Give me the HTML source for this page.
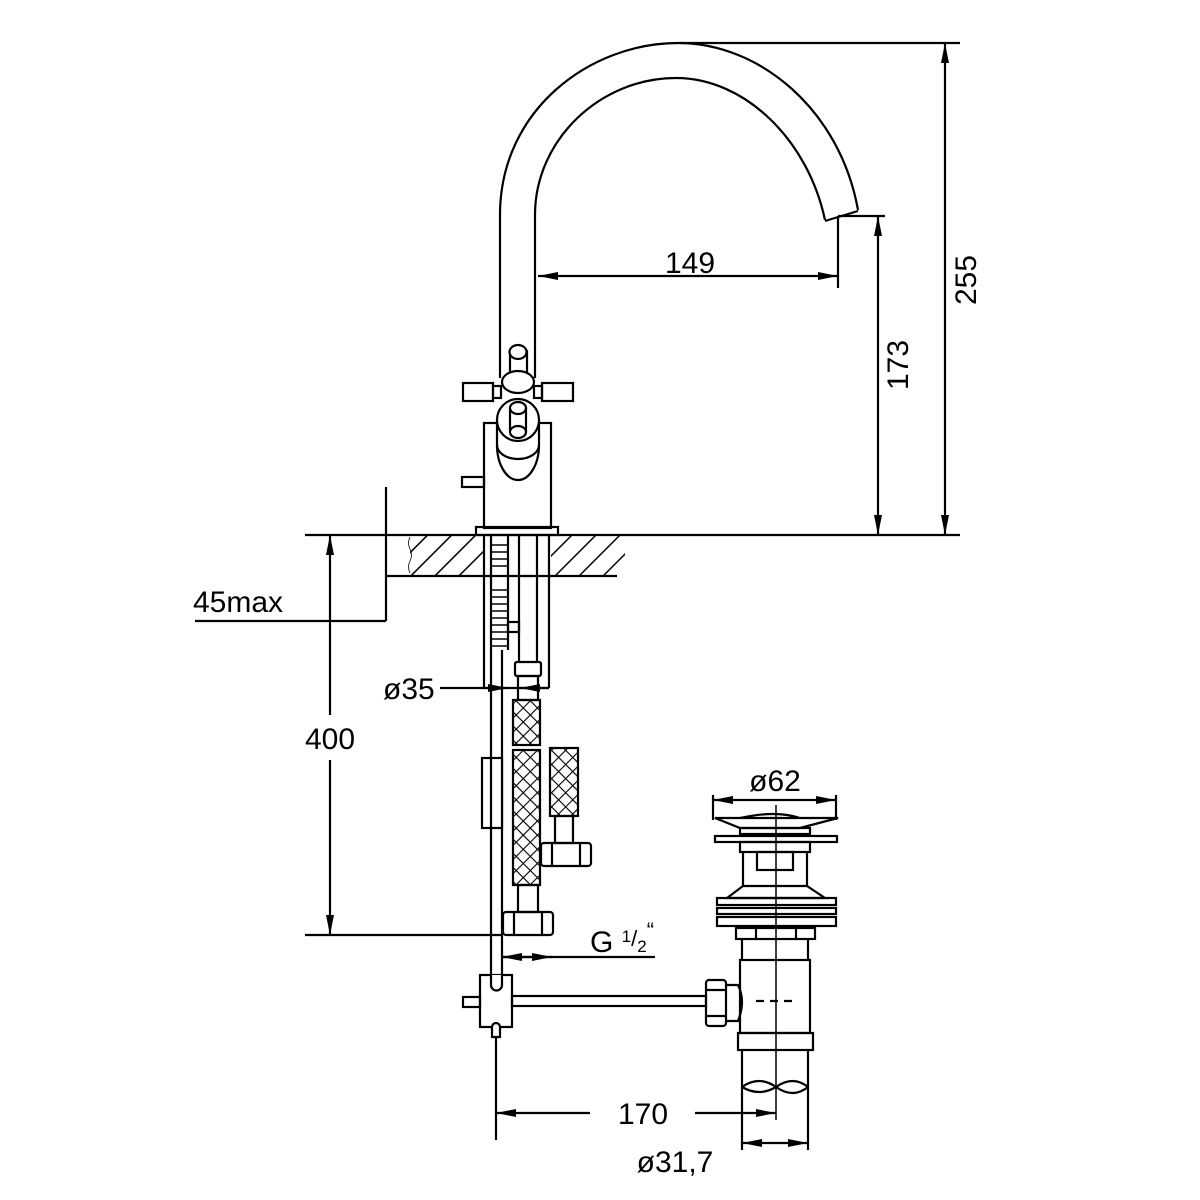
<!DOCTYPE html>
<html><head><meta charset="utf-8"><style>
html,body{margin:0;padding:0;background:#fff;}
svg{display:block;}
text{font-family:"Liberation Sans",sans-serif;font-size:30px;fill:#000;}
</style></head><body>
<svg width="1200" height="1200" viewBox="0 0 1200 1200" xmlns="http://www.w3.org/2000/svg">
<defs>
<marker id="a" viewBox="0 0 20 8" refX="20" refY="4" markerWidth="20" markerHeight="8" markerUnits="userSpaceOnUse" orient="auto-start-reverse"><path d="M0,0L20,4L0,8z" fill="#000"/></marker>
<pattern id="h" width="17" height="17" patternUnits="userSpaceOnUse" patternTransform="rotate(45)"><line x1="0" y1="0" x2="0" y2="17" stroke="#000" stroke-width="3"/></pattern>
<pattern id="x" width="10" height="10" patternUnits="userSpaceOnUse" patternTransform="rotate(45)"><path d="M0,0H10M0,0V10" stroke="#000" stroke-width="2.2" fill="none"/></pattern>
</defs>
<g fill="none" stroke="#000" stroke-width="2.2">
<!-- spout -->
<path d="M500,378 V215 C500,110 590,43 678,43 C760,43 840,110 858,210"/>
<path d="M535,378 V215 C535,140 600,78 676,78 C745,78 808,140 825,220"/>
<path d="M825,221 L858,211"/>
<!-- dims top -->
<line x1="680" y1="43" x2="960" y2="43"/>
<line x1="945" y1="43" x2="945" y2="535" marker-start="url(#a)" marker-end="url(#a)"/>
<line x1="838" y1="216" x2="885" y2="216"/>
<line x1="838" y1="216" x2="838" y2="288"/>
<line x1="878" y1="216" x2="878" y2="535" marker-start="url(#a)" marker-end="url(#a)"/>
<line x1="538" y1="276" x2="838" y2="276" marker-start="url(#a)" marker-end="url(#a)"/>
<!-- handles -->
<rect x="484" y="423" width="67" height="105" fill="#fff"/>
<rect x="462" y="477" width="22" height="10"/>
<rect x="476" y="527" width="82" height="8"/>
<rect x="463" y="383" width="30" height="18" fill="#fff"/>
<rect x="542" y="383" width="31" height="18" fill="#fff"/>
<rect x="493" y="386" width="8" height="12"/>
<rect x="534" y="386" width="8" height="12"/>
<path d="M510,350 V385 H527 V350" fill="#fff"/>
<ellipse cx="518" cy="352" rx="8.5" ry="7" fill="#fff"/>
<path d="M497,420 V445 A21,35 0 0 0 539,445 V420" fill="#fff"/>
<path d="M497,445 A21,14 0 0 0 539,445"/>
<circle cx="518" cy="420" r="21" fill="#fff"/>
<ellipse cx="518" cy="382" rx="16" ry="11" fill="#fff"/>
<path d="M510,408 V432 M526,408 V432"/>
<ellipse cx="518" cy="408" rx="8" ry="6"/>
<ellipse cx="518" cy="432" rx="8" ry="6" fill="#fff"/>
<!-- counter -->
<rect x="410" y="535" width="74" height="41" fill="url(#h)" stroke="none"/>
<rect x="551" y="535" width="74" height="41" fill="url(#h)" stroke="none"/>
<line x1="305" y1="535" x2="960" y2="535"/>
<line x1="386" y1="576" x2="617" y2="576"/>
<line x1="386" y1="487" x2="386" y2="621"/>
<line x1="195" y1="621" x2="386" y2="621"/>
<path d="M410,537 q-3,6 0,12 q3,6 0,12 q-3,6 0,12" stroke-width="0.8"/>
<!-- pipes -->
<line x1="484" y1="535" x2="484" y2="688"/>
<line x1="549" y1="535" x2="549" y2="688"/>
<line x1="491" y1="535" x2="491" y2="975"/>
<line x1="502" y1="650" x2="502" y2="975"/>
<line x1="508" y1="535" x2="508" y2="650"/>
<line x1="519" y1="535" x2="519" y2="662"/>
<line x1="537" y1="535" x2="537" y2="662"/>
<path d="M492,545 h16 M492,552 h16 M492,559 h16 M492,566 h16 M492,590 h16 M492,597 h16 M492,604 h16 M492,611 h16 M492,618 h16 M492,625 h16 M492,632 h16 M492,639 h16 M492,646 h16" stroke-width="1.5"/>
<rect x="508" y="622" width="11" height="10"/>
<line x1="484" y1="688" x2="549" y2="688"/>
<rect x="515" y="662" width="26" height="14" rx="2"/>
<rect x="518" y="676" width="20" height="24"/>
<rect x="513" y="700" width="27" height="45" fill="url(#x)"/>
<rect x="513" y="750" width="27" height="135" fill="url(#x)"/>
<rect x="550" y="748" width="28" height="68" fill="url(#x)"/>
<rect x="555" y="816" width="18" height="27"/>
<rect x="541" y="843" width="50" height="23" rx="3"/>
<path d="M552,843 v23 M580,843 v23"/>
<rect x="518" y="885" width="20" height="27"/>
<rect x="503" y="912" width="50" height="23" rx="3"/>
<path d="M514,912 v23 M542,912 v23"/>
<rect x="482" y="758" width="20" height="70" fill="#fff"/>
<line x1="491" y1="758" x2="491" y2="828"/>
<!-- 400 / 45max / ø35 -->
<line x1="305" y1="935" x2="503" y2="935"/>
<line x1="330" y1="535" x2="330" y2="715" marker-start="url(#a)"/>
<line x1="330" y1="760" x2="330" y2="935" marker-end="url(#a)"/>
<line x1="440" y1="688" x2="508" y2="688" marker-end="url(#a)"/>
<line x1="549" y1="688" x2="520" y2="688" marker-end="url(#a)"/>
<!-- G 1/2 -->
<line x1="502" y1="957" x2="655" y2="957"/>
<line x1="528" y1="957" x2="502" y2="957" marker-end="url(#a)"/>
<line x1="528" y1="957" x2="552" y2="957" marker-end="url(#a)"/>
<!-- tee -->
<rect x="480" y="975" width="32" height="52"/>
<rect x="463" y="997" width="17" height="10"/>
<rect x="512" y="996" width="194" height="10"/>
<path d="M491,975 v10 a5,5 0 0 0 11,0 v-10" fill="#fff"/>
<path d="M492,1037 v-10 a4,4 0 0 1 8,0 v10 z" fill="#fff"/>
<line x1="496" y1="1037" x2="496" y2="1140"/>
<rect x="706" y="980" width="20" height="46" rx="3"/>
<path d="M706,990 h20 M706,1016 h20"/>
<path d="M726,985 h12 q8,16 0,36 h-12"/>
<!-- waste -->
<line x1="713" y1="795" x2="713" y2="820"/>
<line x1="836" y1="795" x2="836" y2="820"/>
<line x1="713" y1="800" x2="836" y2="800" marker-start="url(#a)" marker-end="url(#a)"/>
<path d="M715,818 L740,828 H800 L838,818 Z M740,818 q36,-8 60,0"/>
<rect x="740" y="828" width="70" height="6"/>
<rect x="715" y="836" width="122" height="6"/>
<rect x="740" y="842" width="70" height="10"/>
<line x1="743" y1="852" x2="743" y2="886"/>
<line x1="807" y1="852" x2="807" y2="886"/>
<rect x="757" y="852" width="36" height="18"/>
<path d="M743,886 L727,898 H825 L807,886 Z"/>
<rect x="717" y="898" width="119" height="7"/>
<rect x="717" y="908" width="119" height="6"/>
<rect x="717" y="917" width="119" height="9"/>
<rect x="736" y="928" width="79" height="11"/>
<path d="M756,928 v11 M796,928 v11"/>
<line x1="742" y1="939" x2="742" y2="960"/>
<line x1="808" y1="939" x2="808" y2="960"/>
<rect x="740" y="960" width="70" height="73"/>
<rect x="738" y="1033" width="75" height="17"/>
<line x1="742" y1="1050" x2="742" y2="1150"/>
<line x1="808" y1="1050" x2="808" y2="1150"/>
<path d="M742,1087 q17,-12 34,0 q17,12 32,0 M742,1087 q17,10 34,0 q17,-12 32,0"/>
<path d="M756,1001 h8 M770,1001 h8 M784,1001 h8"/>
<line x1="776" y1="805" x2="776" y2="1120" stroke-width="1.5"/>
<!-- 170 / ø31,7 -->
<line x1="496" y1="1113" x2="590" y2="1113" marker-start="url(#a)"/>
<line x1="695" y1="1113" x2="776" y2="1113" marker-end="url(#a)"/>
<line x1="742" y1="1143" x2="808" y2="1143" marker-start="url(#a)" marker-end="url(#a)"/>
</g>
<text x="690" y="273" text-anchor="middle">149</text>
<text transform="translate(908,365) rotate(-90)" text-anchor="middle">173</text>
<text transform="translate(976,280) rotate(-90)" text-anchor="middle">255</text>
<text x="193" y="612">45max</text>
<text x="383" y="699">ø35</text>
<text x="330" y="749" text-anchor="middle">400</text>
<text x="590" y="952">G <tspan font-size="17" dy="-10">1</tspan><tspan font-size="22" dy="4">/</tspan><tspan font-size="17" dy="6">2</tspan><tspan font-size="22" dy="-14">“</tspan></text>
<text x="775" y="791" text-anchor="middle">ø62</text>
<text x="643" y="1124" text-anchor="middle">170</text>
<text x="675" y="1172" text-anchor="middle">ø31,7</text>
</svg>
</body></html>
